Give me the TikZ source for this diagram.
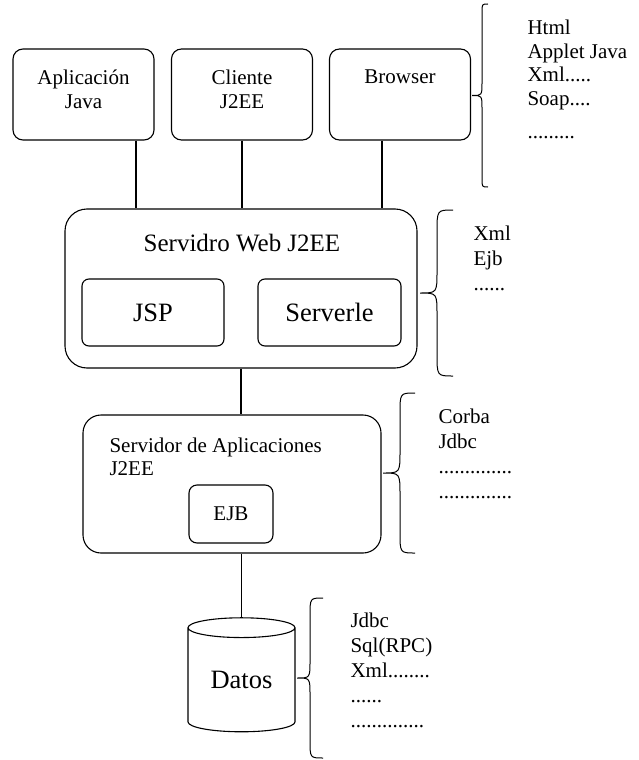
\documentclass[tikz,border=0pt]{standalone}
\usepackage{fontspec}
\setmainfont{Liberation Serif}
\usetikzlibrary{shapes.geometric}

% llave: x de la recta, arriba, abajo, ancho de las puntas, ancho del pico
\newcommand{\llave}[5]{%
    \draw[line width=1pt] ({#1+#4},#2) .. controls (#1,#2) .. (#1,{#2+1.4*#4})
        -- (#1,{(#2+#3)/2-1.3*#5}) .. controls (#1,{(#2+#3)/2}) .. ({#1-#5},{(#2+#3)/2})
        .. controls (#1,{(#2+#3)/2}) .. (#1,{(#2+#3)/2+1.3*#5})
        -- (#1,{#3-1.4*#4}) .. controls (#1,#3) .. ({#1+#4},#3);}

\begin{document}
\begin{tikzpicture}[x=1pt, y=-1pt, line width=1.1pt,
    client/.style={draw, rounded corners=10pt, minimum width=141pt, minimum height=91pt,
        align=center, inner sep=0pt, text depth=10pt, font=\fontsize{21}{24}\selectfont},
    server/.style={draw, rounded corners=22pt, inner sep=0pt},
    part/.style={draw, rounded corners=7pt, inner sep=0pt, font=\fontsize{26.5}{30}\selectfont},
    notes/.style={anchor=north west, align=left, inner sep=0pt, font=\fontsize{21}{25}\selectfont}]
    \useasboundingbox (0,0) rectangle (638,760);

    % clientes
    \node[client] (app) at (83.5,94.5) {Aplicación\\Java};
    \node[client] (cli) at (242,94.5) {Cliente\\J2EE};
    \node[client, text height=14.5pt, text depth=35.5pt] (brw) at (400,94.5) {Browser};

    % servidor web
    \node[server, minimum width=352pt, minimum height=159pt] (web) at (241,288.5) {};
    \node[anchor=base, inner sep=0pt, font=\fontsize{25}{30}\selectfont] (webname) at (242,251) {Servidro Web J2EE};
    \node[part, minimum width=142pt, minimum height=67pt] (jsp) at (153,312.5) {JSP};
    \node[part, minimum width=143pt, minimum height=67pt] (srv) at (329.5,312.5) {Serverle};

    % servidor de aplicaciones
    \node[server, rounded corners=18pt, minimum width=298pt, minimum height=138pt] (aps) at (232,484) {};
    \node[notes, font=\fontsize{21}{23}\selectfont] (apsname) at (109,437.7) {Servidor de Aplicaciones\\J2EE};
    \node[part, rounded corners=8pt, minimum width=84pt, minimum height=58pt,
        font=\fontsize{21}{24}\selectfont] (ejb) at (231,514) {EJB};

    % datos
    \node[draw, cylinder, shape border rotate=90, aspect=0.32, minimum width=107pt, minimum height=114pt,
        inner sep=0pt, font=\fontsize{26.5}{30}\selectfont] (db) at (241.5,680) {Datos};

    \coordinate (a1) at ([xshift=52.5pt]app.south);
    \coordinate (b1) at ([xshift=-18pt]brw.south);
    \draw (a1) -- (a1 |- web.north);
    \draw (cli.south) -- (cli.south |- web.north);
    \draw (b1) -- (b1 |- web.north);
    \draw (web.south) -- (web.south |- aps.north);
    \draw (db.north |- aps.south) -- (db.north);

    % llaves
    \llave{482}{4}{187}{6}{10}
    \llave{437}{210}{376}{16}{17}
    \llave{400}{393}{553}{15}{17}
    \llave{310}{598}{758}{13}{13}

    \node[notes, font=\fontsize{21}{23.5}\selectfont] (n1) at (527,19.7) {Html\\Applet Java\\Xml.....\\Soap....\\[10pt].........};
    \node[notes] (n2) at (473,225) {Xml\\Ejb\\......};
    \node[notes] (n3) at (438,408) {Corba\\Jdbc\\..............\\..............};
    \node[notes] (n4) at (350,612.7) {Jdbc\\Sql(RPC)\\Xml........\\......\\..............};
\end{tikzpicture}
\end{document}
